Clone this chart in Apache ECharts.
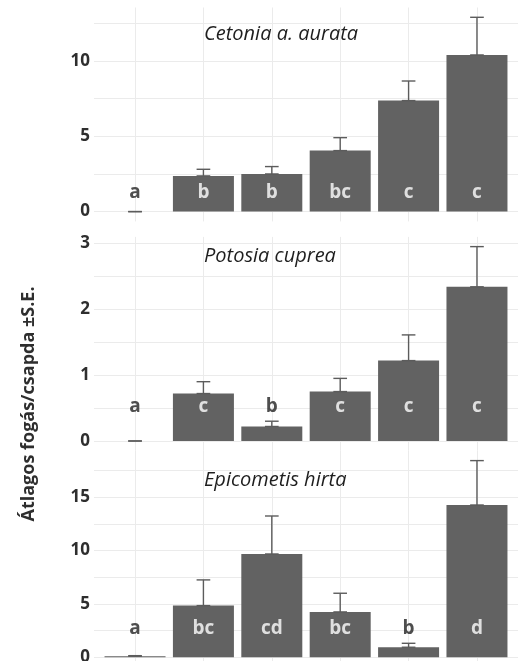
<!DOCTYPE html>
<html>
<head>
<meta charset="utf-8">
<script src="https://cdn.jsdelivr.net/npm/echarts@6/dist/echarts.min.js"></script>
<style>
html,body{margin:0;padding:0;background:#fff;}
#chart{width:518px;height:661px;}
</style>
</head>
<body>
<div id="chart"></div>
<script>
// ---- data ----
const categories = [1, 2, 3, 4, 5, 6];
const panelTitles = ['Cetonia a. aurata', 'Potosia cuprea', 'Epicometis hirta'];

const cetoniaMean = [0, 2.37, 2.50, 4.05, 7.37, 10.40];
const cetoniaSE   = [0, 0.44, 0.49, 0.86, 1.30, 2.50];
const cetoniaLetters = ['a', 'b', 'b', 'bc', 'c', 'c'];

const potosiaMean = [0, 0.72, 0.22, 0.75, 1.22, 2.34];
const potosiaSE   = [0, 0.18, 0.08, 0.20, 0.39, 0.61];
const potosiaLetters = ['a', 'c', 'b', 'c', 'c', 'c'];

const epicometisMean = [0.10, 4.84, 9.68, 4.25, 0.94, 14.27];
const epicometisSE   = [0.05, 2.41, 3.56, 1.75, 0.37, 4.16];
const epicometisLetters = ['a', 'bc', 'cd', 'bc', 'b', 'd'];

// axis ranges / ticks per panel
const yRanges = [[-0.65, 13.55], [-0.1475, 3.0975], [-0.35, 19.35]];
const minorStep = [2.5, 0.5, 2.5];
const majorStep = [5, 1, 5];
const letterY = [1.24, 0.52, 2.72];

const yLabel = 'Átlagos fogás/csapda ±S.E.';

// ---- layout ----
const gridTops = [7.5, 236.9, 450.8];
const gridHeights = [213.9, 213.8, 210.2];
const titleCenters = [34, 256, 480];

const means = [cetoniaMean, potosiaMean, epicometisMean];
const ses = [cetoniaSE, potosiaSE, epicometisSE];
const letters = [cetoniaLetters, potosiaLetters, epicometisLetters];

const FONT = '"Open Sans", "Noto Sans", sans-serif';
const BAR = '#626262';
const GRIDC = '#ebebeb';

const grids = [], xAxes = [], yAxes = [], series = [], graphics = [];

for (let p = 0; p < 3; p++) {
  grids.push({left: 94, right: 0, top: gridTops[p], height: gridHeights[p],
              containLabel: false, outerBoundsMode: 'none'});
  xAxes.push({
    type: 'value', gridIndex: p, min: 0.4, max: 6.6, minInterval: 1, maxInterval: 1,
    axisLine: {show: false}, axisTick: {show: false}, axisLabel: {show: false},
    splitLine: {show: true, showMinLine: false, showMaxLine: false, lineStyle: {color: GRIDC, width: 1}}
  });
  const maj = majorStep[p];
  yAxes.push({
    type: 'value', gridIndex: p, min: yRanges[p][0], max: yRanges[p][1],
    minInterval: minorStep[p], maxInterval: minorStep[p],
    axisLine: {show: false}, axisTick: {show: false},
    axisLabel: {
      margin: 4, color: '#2e2e2e', fontWeight: 'bold', fontSize: 17, fontFamily: FONT,
      showMinLabel: false, showMaxLabel: false,
      formatter: function (v) {
        if (v < -1e-9) return '';
        const r = v / maj;
        return Math.abs(r - Math.round(r)) < 1e-6 ? String(Math.round(v)) : '';
      }
    },
    splitLine: {show: true, showMinLine: false, showMaxLine: false, lineStyle: {color: GRIDC, width: 1}}
  });

  series.push({
    type: 'bar', xAxisIndex: p, yAxisIndex: p, barWidth: 61,
    itemStyle: {color: BAR},
    data: categories.map((c, i) => [c, means[p][i]]),
    z: 2
  });

  series.push({
    type: 'custom', xAxisIndex: p, yAxisIndex: p, z: 3,
    data: categories.map((c, i) => [c, means[p][i], means[p][i] + ses[p][i]]),
    renderItem: function (params, api) {
      const x = api.value(0), lo = api.value(1), hi = api.value(2);
      const a = api.coord([x, lo]), b = api.coord([x, hi]);
      const hw = api.size([0.1, 0])[0];
      const st = {stroke: '#5c5c5c', lineWidth: 1.4};
      return {type: 'group', children: [
        {type: 'line', shape: {x1: a[0], y1: a[1], x2: b[0], y2: b[1]}, style: st},
        {type: 'line', shape: {x1: a[0] - hw, y1: b[1], x2: a[0] + hw, y2: b[1]}, style: st},
        {type: 'line', shape: {x1: a[0] - hw, y1: a[1], x2: a[0] + hw, y2: a[1]}, style: st}
      ]};
    }
  });

  const ly = letterY[p];
  series.push({
    type: 'scatter', xAxisIndex: p, yAxisIndex: p, symbolSize: 0, z: 4, silent: true,
    data: categories.map((c, i) => ({
      value: [c, ly],
      name: letters[p][i],
      label: {color: means[p][i] > ly ? '#ffffff' : '#222222'}
    })),
    label: {
      show: true, position: 'inside', fontWeight: 'bold', fontSize: 19, fontFamily: FONT,
      formatter: function (prm) { return prm.name; }
    }
  });

  graphics.push({
    type: 'text', x: 204, y: titleCenters[p], z: 10,
    style: {text: panelTitles[p], font: 'italic 20px "Open Sans", "Noto Sans", sans-serif',
            fill: '#1e1e1e', align: 'left', verticalAlign: 'middle'}
  });
}

graphics.push({
  type: 'text', x: 29, y: 404, rotation: Math.PI / 2, z: 10,
  style: {text: yLabel, font: 'bold 18px "Open Sans", "Noto Sans", sans-serif', fill: '#2e2e2e',
          align: 'center', verticalAlign: 'middle'}
});

const chart = echarts.init(document.getElementById('chart'), null, {renderer: 'canvas'});
chart.setOption({
  animation: false,
  backgroundColor: '#ffffff',
  grid: grids,
  xAxis: xAxes,
  yAxis: yAxes,
  series: series,
  graphic: graphics
});
</script>
</body>
</html>
